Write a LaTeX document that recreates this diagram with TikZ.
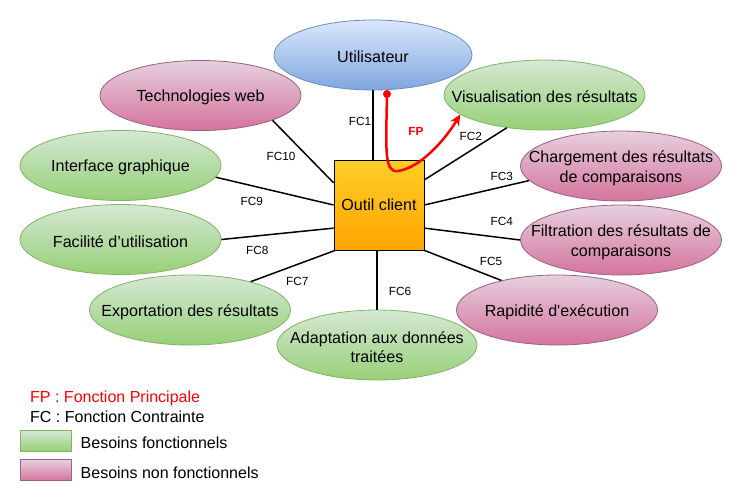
\documentclass[tikz,border=0pt]{standalone}
\usepackage{fontspec}
\setmainfont{Liberation Sans}
\newfontfamily\plainfont{Liberation Sans}
\usetikzlibrary{shapes.geometric,arrows.meta}
\definecolor{gTop}{HTML}{D5E8D4}
\definecolor{gBot}{HTML}{97D077}
\definecolor{gLine}{HTML}{82B366}
\definecolor{pTop}{HTML}{E6D0DE}
\definecolor{pBot}{HTML}{D5739D}
\definecolor{pLine}{HTML}{996185}
\definecolor{bTop}{HTML}{DAE8FC}
\definecolor{bBot}{HTML}{7EA6E0}
\definecolor{bLine}{HTML}{6C8EBF}
\definecolor{oTop}{HTML}{FFCD28}
\definecolor{oBot}{HTML}{FFA500}
\begin{document}
\begin{tikzpicture}[x=1pt,y=-1pt,
  ell/.style={ellipse, inner sep=0pt, minimum width=201pt, minimum height=70pt, line width=0.8pt},
  fgreen/.style={ell, draw=gLine, top color=gTop, bottom color=gBot},
  fpink/.style={ell, draw=pLine, top color=pTop, bottom color=pBot},
  fblue/.style={ell, draw=bLine, top color=bTop, bottom color=bBot},
  txt/.style={inner sep=0pt, align=center, yshift=-2pt, font=\fontsize{16.1}{19.5}\selectfont},
  fclab/.style={inner sep=0pt, font=\fontsize{11.8}{14}\selectfont},
  conn/.style={line width=1.5pt, black},
  legtxt/.style={inner sep=0pt, anchor=west, font=\fontsize{16}{19}\selectfont},
  legbox/.style={minimum width=51pt, minimum height=21pt, inner sep=0pt, line width=0.8pt}
]
\useasboundingbox (0,0) rectangle (741,501);
\fill[white] (0,0) rectangle (741,501);

% ellipses
\node[fpink]  (tech)  at (200.5,95.5) {};
\node[fgreen] (viz)   at (544.5,95) {};
\node[fblue, minimum width=198pt] (util) at (373,55) {};
\node[fgreen] (iface) at (120.5,165.5) {};
\node[fpink]  (charg) at (621,166) {};
\node[fgreen] (facil) at (120.5,239.5) {};
\node[fpink]  (filt)  at (621,240) {};
\node[fgreen] (expo)  at (190,310) {};
\node[fpink]  (rapid) at (557,310) {};
\node[fgreen, minimum width=200pt] (adapt) at (377,345) {};

% texts
\node[txt] (tutil)  at (util)  {Utilisateur};
\node[txt] (ttech)  at (tech)  {Technologies web};
\node[txt] (tviz)   at (viz)   {Visualisation des résultats};
\node[txt] (tiface) at (iface) {Interface graphique};
\node[txt] (tcharg) at (charg) {Chargement des résultats\\de comparaisons};
\node[txt] (tfacil) at (facil) {Facilité d’utilisation};
\node[txt] (tfilt)  at (filt)  {Filtration des résultats de\\comparaisons};
\node[txt] (texpo)  at (expo)  {Exportation des résultats};
\node[txt] (trapid) at (rapid) {Rapidité d{\plainfont'}exécution};
\node[txt] (tadapt) at (adapt) {Adaptation aux données\\traitées};

% central box
\node[draw=black, line width=0.8pt, top color=oTop, bottom color=oBot,
      minimum width=90pt, minimum height=90pt, inner sep=0pt,
      font=\fontsize{16.1}{19.5}\selectfont] (box) at (379,205) {Outil client};

% connectors
\draw[conn] (util.south) -- (util.south |- box.north);
\draw[conn] (box.29)  -- (viz.221);
\draw[conn] (box.0)   -- (charg.189);
\draw[conn] (box.-27) -- (filt.west);
\draw[conn] (box.-45) -- (rapid.152);
\draw[conn] (box.south -| adapt.north) -- (adapt.north);
\draw[conn] (box.-134) -- (expo.25);
\draw[conn] (box.207) -- (facil.east);
\draw[conn] (box.180) -- (iface.-7);
\draw[conn] (box.154) -- (tech.-19);

% labels
\node[fclab] (l1)  at (360,121.7) {FC1};
\node[fclab] (l2)  at (470.7,136.7) {FC2};
\node[fclab] (l3)  at (501.7,176) {FC3};
\node[fclab] (l4)  at (501.7,221.7) {FC4};
\node[fclab] (l5)  at (491,261) {FC5};
\node[fclab] (l6)  at (400,291.7) {FC6};
\node[fclab] (l7)  at (297.3,281.7) {FC7};
\node[fclab] (l8)  at (257.3,250.7) {FC8};
\node[fclab] (l9)  at (251.7,201.7) {FC9};
\node[fclab] (l10) at (281,156.7) {FC10};
\node[fclab, text=red, font=\fontsize{11.8}{14}\selectfont\bfseries] (lfp) at (416,131.7) {FP};

% FP arrow
\node[circle, fill=red, inner sep=0pt, minimum size=8pt] (dot) at (387,94) {};
\draw[red, line width=2.5pt, -{Stealth[length=11pt,width=10pt]}]
  (dot.center) .. controls (386,150) and (384,173) .. (398,171)
  .. controls (420,168) and (445,140) .. (viz.193);

% legend
\node[legtxt, text=red] (lgfp) at (30,398) {FP : Fonction Principale};
\node[legtxt] (lgfc) at (30,416.7) {FC : Fonction Contrainte};
\node[legbox, draw=gLine, top color=gTop, bottom color=gBot] (lgg) at (45.5,440.5) {};
\node[legbox, draw=pLine, top color=pTop, bottom color=pBot] (lgp) at (45.5,470) {};
\node[legtxt] (lggt) at (80.5,442.7) {Besoins fonctionnels};
\node[legtxt] (lgpt) at (80.5,472.7) {Besoins non fonctionnels};
\end{tikzpicture}
\end{document}
